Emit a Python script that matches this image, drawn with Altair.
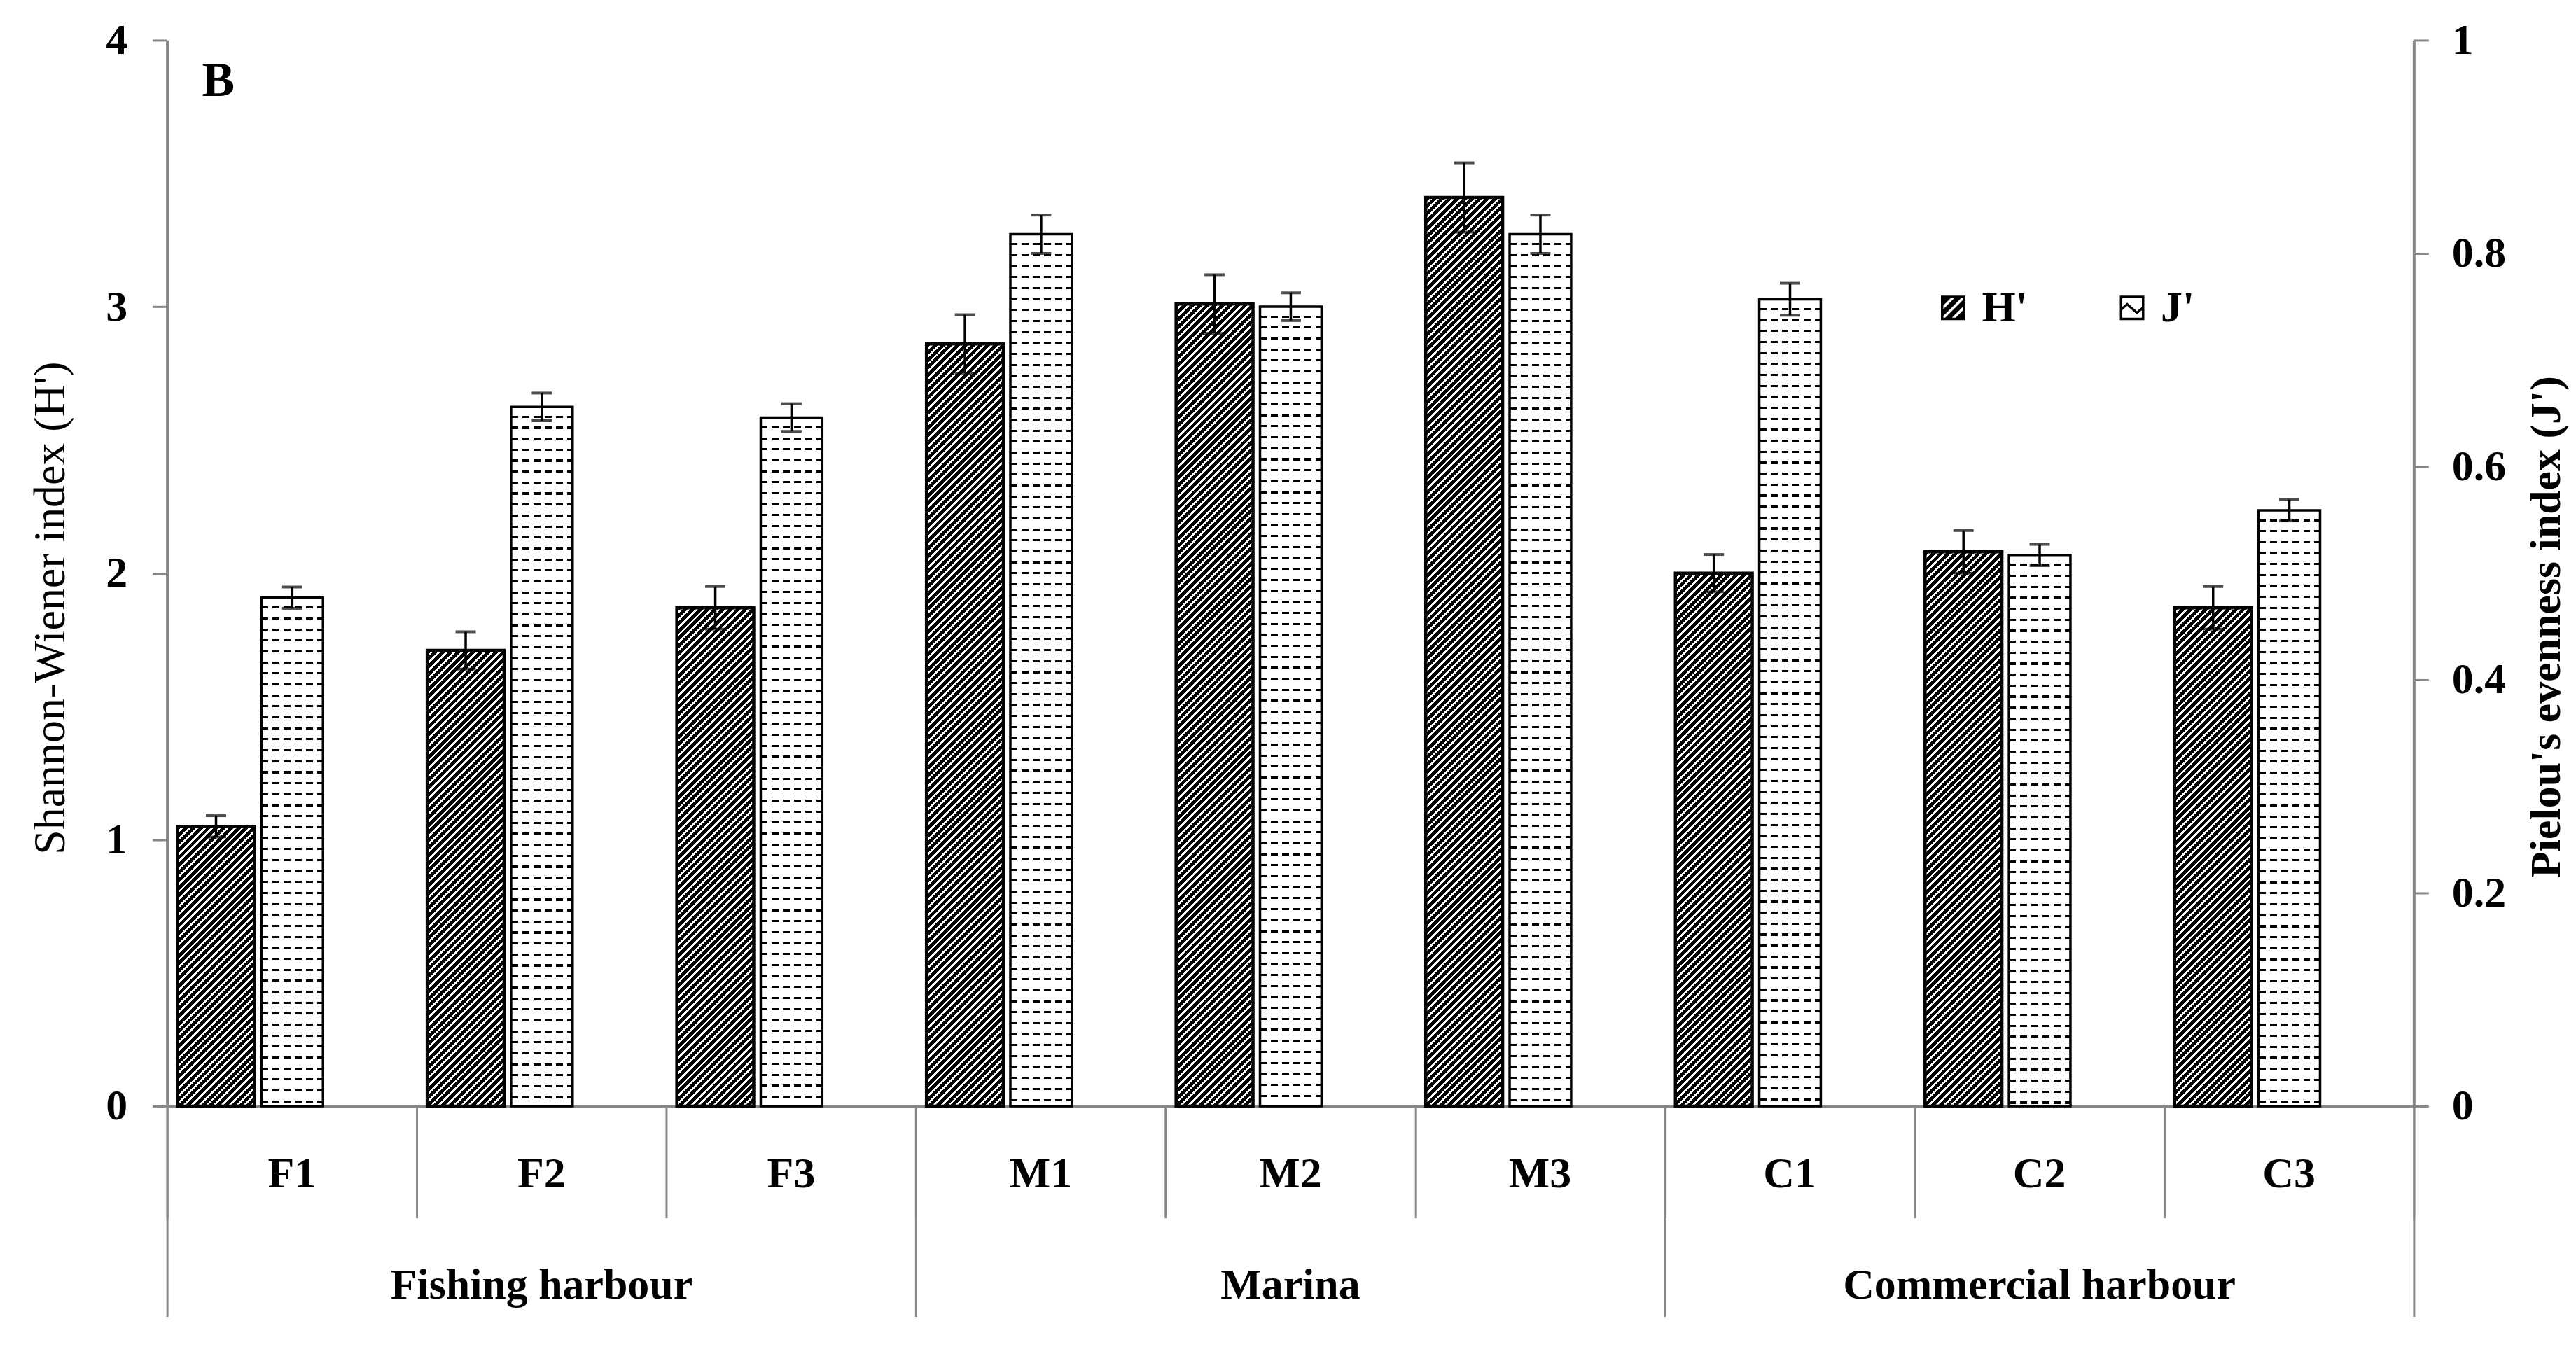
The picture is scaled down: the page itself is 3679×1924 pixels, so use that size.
import altair as alt
import pandas as pd

# ---------------- data ----------------
sites = ["F1", "F2", "F3", "M1", "M2", "M3", "C1", "C2", "C3"]
groups = ["Fishing harbour"] * 3 + ["Marina"] * 3 + ["Commercial harbour"] * 3
h_mean = [1.05, 1.71, 1.87, 2.86, 3.01, 3.41, 2.00, 2.08, 1.87]
h_err = [0.04, 0.07, 0.08, 0.11, 0.11, 0.13, 0.07, 0.08, 0.08]
j_mean = [0.477, 0.656, 0.646, 0.818, 0.750, 0.818, 0.757, 0.517, 0.559]
j_err = [0.010, 0.013, 0.013, 0.018, 0.013, 0.018, 0.015, 0.010, 0.010]
series_names = ["H'", "J'"]
h_ticks = [0, 1, 2, 3, 4]
j_ticks = [0, 0.2, 0.4, 0.6, 0.8, 1]
panel_label = "B"
h_title = "Shannon-Wiener index  (H')"
j_title = "Pielou's evenness index (J')"

df = pd.DataFrame({"site": sites, "group": groups, "h": h_mean, "h_err": h_err,
                   "j": j_mean, "j_err": j_err})
legend_df = pd.DataFrame({"series": series_names})

# ---------------- styling ----------------
FONT = "Liberation Serif"
GREY = "#868686"
PLOT_W, PLOT_H = 3214, 1525
BAND = PLOT_W / len(sites)
H_BAR_W, J_BAR_W = 110, 88
H_SHIFT = 70 - BAND / 2
J_SHIFT = 179 - BAND / 2
H_MAX, J_MAX = h_ticks[-1], j_ticks[-1]

xscale = alt.Scale(domain=sites, paddingInner=0, paddingOuter=0)
hscale = alt.Scale(domain=[0, H_MAX], nice=False)
jscale = alt.Scale(domain=[0, J_MAX], nice=False)


def xenc(axis=None):
    if axis is None:
        return alt.X("site:N", sort=sites, scale=xscale, axis=None)
    return alt.X("site:N", sort=sites, scale=xscale, axis=axis, title=None)


def band_stops(total, period, first_len, first_color, second_color):
    stops = []
    pos = 0.0
    while pos < total - 1e-9:
        mid = min(pos + first_len, total)
        end = min(pos + period, total)
        stops.append({"offset": round(pos / total, 6), "color": first_color})
        stops.append({"offset": round(mid / total, 6), "color": first_color})
        if mid < total:
            stops.append({"offset": round(mid / total, 6), "color": second_color})
            stops.append({"offset": round(end / total, 6), "color": second_color})
        pos += period
    return stops


def hatch_gradient(height_px, width_px):
    total = width_px + height_px
    s = total / (width_px ** 2 + height_px ** 2)
    return {"gradient": "linear", "x1": 0, "y1": 0,
            "x2": s * width_px, "y2": s * height_px,
            "stops": band_stops(total, 10.8, 6.9, "black", "white")}


def rows_gradient(height_px):
    return {"gradient": "linear", "x1": 0, "y1": 0, "x2": 0, "y2": 1,
            "stops": band_stops(height_px, 15.7, 12.6, "white", "black")}


mask_gradient = {"gradient": "linear", "x1": 0, "y1": 0, "x2": 1, "y2": 0,
                 "stops": band_stops(J_BAR_W, 16, 10, "rgba(255,255,255,0)", "white")}


# ---------------- legend swatch paths ----------------
def clip(poly, a, b, c):
    out = []
    n = len(poly)
    for i in range(n):
        P, Q = poly[i], poly[(i + 1) % n]
        fp = a * P[0] + b * P[1] - c
        fq = a * Q[0] + b * Q[1] - c
        if fp <= 0:
            out.append(P)
        if (fp < 0 < fq) or (fq < 0 < fp):
            t = fp / (fp - fq)
            out.append((P[0] + t * (Q[0] - P[0]), P[1] + t * (Q[1] - P[1])))
    return out


def area(pts):
    return sum(pts[i][0] * pts[(i + 1) % len(pts)][1] - pts[(i + 1) % len(pts)][0] * pts[i][1]
               for i in range(len(pts))) / 2


def ring(pts, cw=True):
    if (area(pts) > 0) != cw:
        pts = pts[::-1]
    return "M" + "L".join(f"{x:.3f},{y:.3f}" for x, y in pts) + "Z"


outer = [(-1, -1), (1, -1), (1, 1), (-1, 1)]
inner = [(-0.8, -0.8), (0.8, -0.8), (0.8, 0.8), (-0.8, 0.8)]
path_h = ring(outer, True)
for cc in (-0.85, 0.0, 0.85):
    st = clip(inner, 1, 1, cc + 0.15)
    st = clip(st, -1, -1, -(cc - 0.15))
    if len(st) >= 3:
        path_h += ring(st, False)
wave = [(-0.8, 0.05), (-0.4, -0.3), (0.0, 0.05), (0.4, 0.4), (0.8, 0.05)]
wave_poly = [(x, y - 0.13) for x, y in wave] + [(x, y + 0.13) for x, y in wave[::-1]]
path_j = ring(outer, True) + ring(inner, False) + ring(wave_poly, True)

# ---------------- layers ----------------
layers = []
base = alt.Chart(df)

left_axis = alt.Axis(orient="left", values=h_ticks, format="~g", grid=False,
                     tickSize=21, tickColor=GREY, tickWidth=3,
                     domainColor=GREY, domainWidth=4,
                     labelFont=FONT, labelFontSize=62, labelFontWeight="bold",
                     labelColor="black", labelPadding=36,
                     title=h_title, titleFont=FONT, titleFontSize=64,
                     titleFontWeight="normal", titleColor="black",
                     titleAngle=270, titleAlign="center", titleBaseline="middle",
                     titleX=-166, titleY=812, titleLimit=3000)
right_axis = alt.Axis(orient="right", values=j_ticks, format="~g", grid=False,
                      tickSize=21, tickColor=GREY, tickWidth=3,
                      domainColor=GREY, domainWidth=4,
                      labelFont=FONT, labelFontSize=62, labelFontWeight="bold",
                      labelColor="black", labelPadding=33,
                      title=j_title, titleFont=FONT, titleFontSize=62,
                      titleFontWeight="bold", titleColor="black",
                      titleAngle=270, titleAlign="center", titleBaseline="middle",
                      titleX=189, titleY=839, titleLimit=3000)

# H' bars (diagonal hatch)
for i, s in enumerate(sites):
    hpx = h_mean[i] / H_MAX * PLOT_H
    yenc = (alt.Y("h:Q", scale=hscale, axis=left_axis) if i == 0
            else alt.Y("h:Q", scale=hscale, axis=None))
    layers.append(
        base.transform_filter(alt.datum.site == s)
        .mark_bar(fill=hatch_gradient(hpx, H_BAR_W), stroke="black", strokeWidth=4.5,
                  width=H_BAR_W, xOffset=H_SHIFT)
        .encode(x=xenc(), y=yenc)
    )

# J' bars (rows of dashes)
for i, s in enumerate(sites):
    jpx = j_mean[i] / J_MAX * PLOT_H
    yenc = (alt.Y("j:Q", scale=jscale, axis=right_axis) if i == 0
            else alt.Y("j:Q", scale=jscale, axis=None))
    layers.append(
        base.transform_filter(alt.datum.site == s)
        .mark_bar(fill=rows_gradient(jpx), strokeWidth=0, width=J_BAR_W, xOffset=J_SHIFT)
        .encode(x=xenc(), y=yenc)
    )
layers.append(
    base.mark_bar(fill=mask_gradient, stroke="black", strokeWidth=3.5,
                  width=J_BAR_W, xOffset=J_SHIFT)
    .encode(x=xenc(), y=alt.Y("j:Q", scale=jscale, axis=None))
)

# error bars
for val, err, sc, shift in (("h", "h_err", hscale, H_SHIFT), ("j", "j_err", jscale, J_SHIFT)):
    eb = base.transform_calculate(lo=f"datum.{val} - datum.{err}", hi=f"datum.{val} + datum.{err}")
    layers.append(
        eb.mark_rule(color="black", strokeWidth=3.5, xOffset=shift)
        .encode(x=xenc(), y=alt.Y("lo:Q", scale=sc, axis=None), y2="hi:Q")
    )
    for fld in ("lo", "hi"):
        layers.append(
            eb.mark_tick(color="black", thickness=4, size=29, xOffset=shift)
            .encode(x=xenc(), y=alt.Y(f"{fld}:Q", scale=sc, axis=None))
        )

# x axes: labels, site dividers, group dividers, group names
group_starts = [sites[i] for i in range(len(sites)) if i == 0 or groups[i] != groups[i - 1]]
group_names = []
group_mid = []
for g in groups:
    if g not in group_names:
        group_names.append(g)
for g in group_names:
    idx = [i for i, gg in enumerate(groups) if gg == g]
    group_mid.append(sites[idx[len(idx) // 2]])
label_expr = "".join(f"datum.value == '{m}' ? '{g}' : " for m, g in zip(group_mid, group_names)) + "''"

axis_specs = [
    alt.Axis(orient="bottom", ticks=False, tickSize=0, grid=False, domain=True,
             domainColor=GREY, domainWidth=4, labelAngle=0, labelFont=FONT,
             labelFontSize=62, labelFontWeight="bold", labelColor="black",
             labelBaseline="top", labelPadding=67, labelLimit=2000, labelOverlap=False),
    alt.Axis(orient="bottom", ticks=True, tickBand="extent", tickSize=160, tickColor=GREY,
             tickWidth=3, labels=False, domain=False, grid=False),
    alt.Axis(orient="bottom", values=group_starts, bandPosition=0, tickSize=318,
             tickColor=GREY, tickWidth=3, labels=False, domain=False, grid=False),
    alt.Axis(orient="bottom", values=[sites[-1]], bandPosition=1, tickSize=318,
             tickColor=GREY, tickWidth=3, labels=False, domain=False, grid=False),
    alt.Axis(orient="bottom", values=group_mid, ticks=False, tickSize=0, domain=False,
             grid=False, labelExpr=label_expr, labelAngle=0, labelFont=FONT,
             labelFontSize=62, labelFontWeight="bold", labelColor="black",
             labelBaseline="top", labelPadding=226, labelLimit=3000, labelOverlap=False),
]
for ax in axis_specs:
    layers.append(base.mark_point(opacity=0).encode(x=xenc(ax)))

# legend
layers.append(
    alt.Chart(legend_df).mark_point(filled=True, color="black", opacity=0, size=1225)
    .encode(shape=alt.Shape("series:N", sort=series_names,
                            scale=alt.Scale(domain=series_names, range=[path_h, path_j]),
                            legend=alt.Legend(title=None, orient="none", legendX=2524, legendY=352,
                                              direction="horizontal", symbolSize=1225,
                                              symbolOpacity=1, symbolStrokeWidth=0,
                                              symbolFillColor="black",
                                              labelFont=FONT, labelFontSize=62,
                                              labelFontWeight="bold", labelColor="black",
                                              labelOffset=10, columnPadding=118, padding=0)))
)

chart = (
    alt.layer(*layers)
    .resolve_scale(y="independent")
    .resolve_axis(x="independent", y="independent")
    .properties(
        width=PLOT_W, height=PLOT_H,
        autosize=alt.AutoSizeParams(type="none"),
        padding={"left": 231, "top": 48, "right": 224, "bottom": 300},
        background="white",
        title=alt.TitleParams(text=panel_label, anchor="start", frame="group", orient="top",
                              font=FONT, fontSize=70, fontWeight="bold", color="black",
                              baseline="top", offset=0, dx=50, dy=126),
    )
    .configure_view(strokeWidth=0)
)

chart.save("out.html", embed_options={"renderer": "svg", "actions": False})
